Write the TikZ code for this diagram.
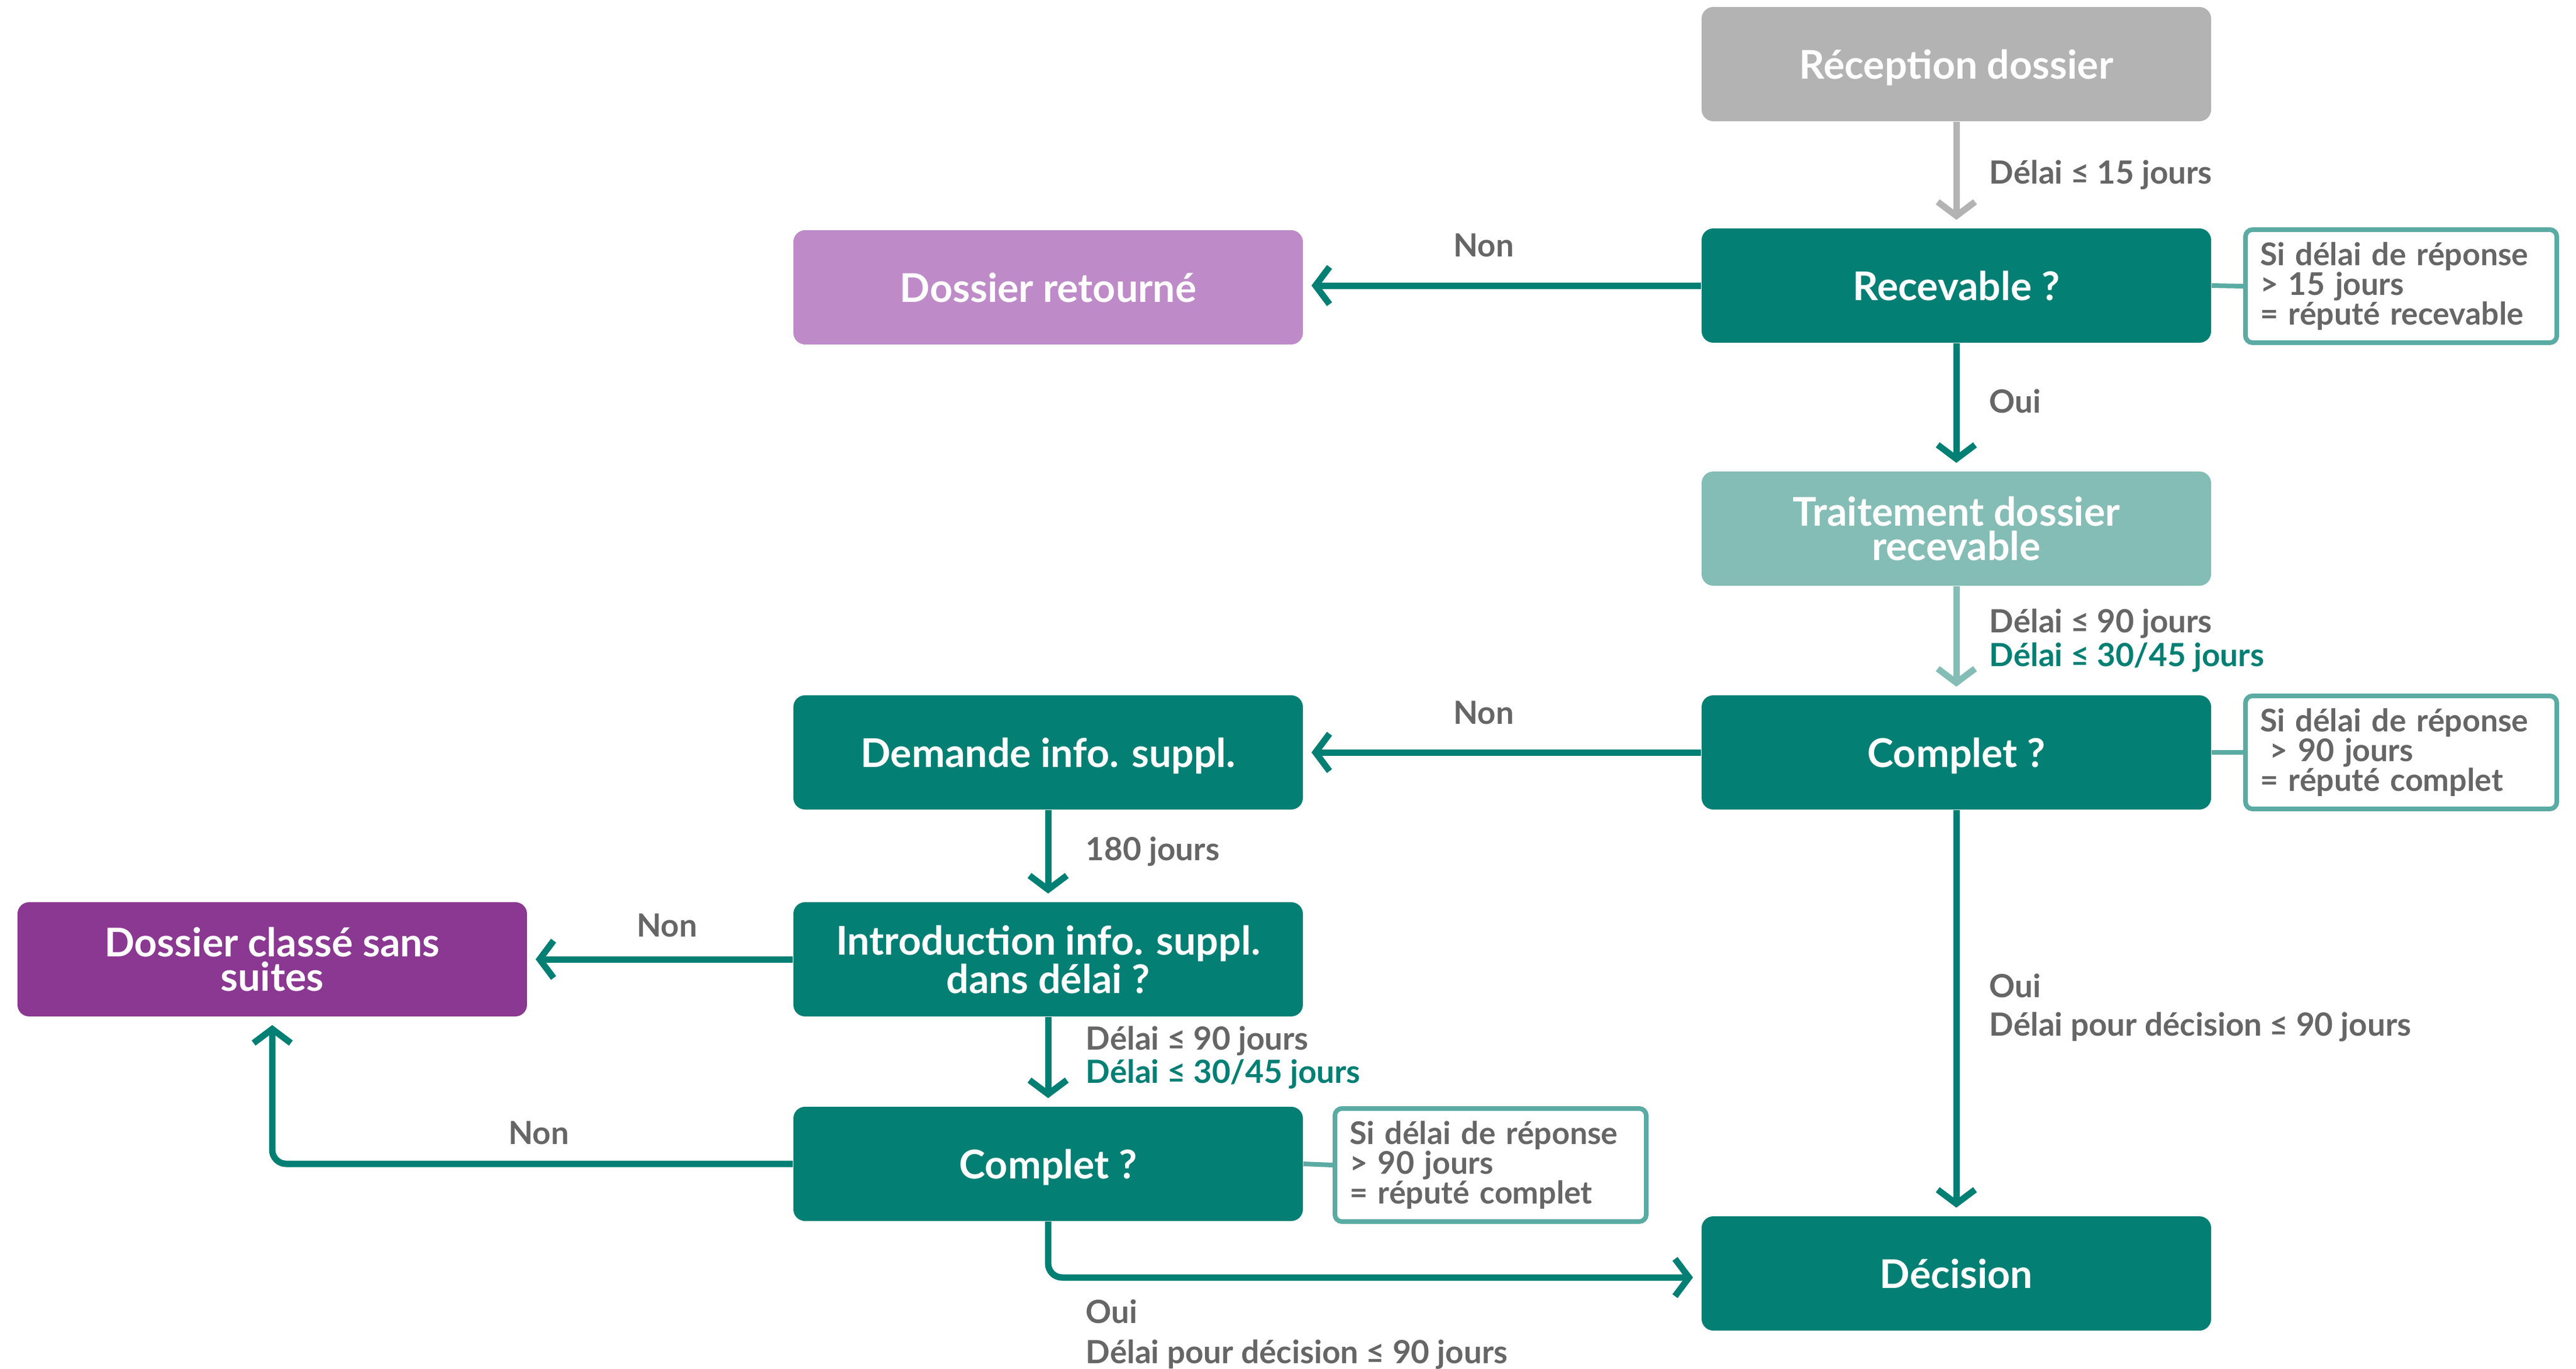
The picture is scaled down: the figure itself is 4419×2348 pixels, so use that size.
\documentclass[tikz,border=0pt]{standalone}
\usepackage{fontspec}
\setmainfont{Lato}
\usetikzlibrary{arrows.meta}
\definecolor{cTeal}{HTML}{037F74}
\definecolor{cLightTeal}{HTML}{84BDB5}
\definecolor{cGrey}{HTML}{B3B3B3}
\definecolor{cPurpleL}{HTML}{BE8BC8}
\definecolor{cPurpleD}{HTML}{8A3891}
\definecolor{cText}{HTML}{666666}
\definecolor{cNote}{HTML}{5AABA3}
\tikzset{
  box/.style={rounded corners=5pt, minimum width=218.5pt, minimum height=49pt,
    text=white, align=center, inner sep=0pt, text depth=0pt,
    font=\fontsize{17}{14.8}\selectfont\bfseries},
  lbl/.style={text=cText, inner sep=0pt, anchor=west,
    font=\fontsize{13.7}{14.5}\selectfont\bfseries},
  notebox/.style={draw=cNote, line width=2pt, fill=white, rounded corners=3pt,
    text width=121pt, inner xsep=6.25pt, inner ysep=0pt, minimum height=48.5pt,
    text=cText, align=left, font=\fontsize{13.4}{12.75}\selectfont\bfseries},
  arrow/.style={draw=cTeal, line width=2.75pt,
    -{Straight Barb[length=6pt,width=16pt]}, shorten >=3.5pt},
  notelink/.style={draw=cNote, line width=2pt}
}
\begin{document}
\begin{tikzpicture}[x=0.25pt,y=-0.25pt]
\useasboundingbox (0,0) rectangle (4419,2348);
% main boxes
\node[box, fill=cGrey] (rec) at (3356,110) {Réception dossier};
\node[box, fill=cTeal] (recv) at (3356,490) {Recevable ?};
\node[box, fill=cLightTeal] (trait) at (3356,907) {Traitement dossier\\recevable};
\node[box, fill=cTeal] (comp1) at (3356,1291) {Complet ?};
\node[box, fill=cTeal] (dec) at (3356,2185) {Décision};
\node[box, fill=cPurpleL] (ret) at (1798,493) {Dossier retourné};
\node[box, fill=cTeal] (dem) at (1798,1291) {Demande info. suppl.};
\node[box, fill=cTeal] (intro) at (1798,1646) {Introduction info. suppl.\\dans délai ?};
\node[box, fill=cTeal] (comp2) at (1798,1997) {Complet ?};
\node[box, fill=cPurpleD] (cls) at (467,1646) {Dossier classé sans\\suites};
% notes
\node[notebox] (n1) at (4119,491) {Si délai de réponse\\> 15 jours\\= réputé recevable};
\node[notebox] (n2) at (4119,1291) {Si délai de réponse\\\hspace*{0.3em}> 90 jours\\= réputé complet};
\node[notebox] (n3) at (2557,1999) {Si délai de réponse\\> 90 jours\\= réputé complet};
% note links
\draw[notelink] (recv.east) -- (n1.west);
\draw[notelink] (comp1.east) -- (n2.west);
\draw[notelink] (comp2.east) -- (n3.west);
% connectors
\draw[arrow, draw=cGrey] (rec) -- (recv);
\draw[arrow] (recv) -- (trait);
\draw[arrow, draw=cLightTeal] (trait) -- (comp1);
\draw[arrow] (comp1) -- (dec);
\draw[arrow] (recv.west) -- (ret.east |- recv.west);
\draw[arrow] (comp1.west) -- (dem.east |- comp1.west);
\draw[arrow] (dem) -- (intro);
\draw[arrow] (intro.west) -- (cls.east |- intro.west);
\draw[arrow] (intro) -- (comp2);
\draw[arrow, rounded corners=6pt] (comp2.west) -| (cls.south);
\draw[arrow, rounded corners=6pt] (comp2.south) |- ([yshift=-1.75pt]dec.west);
% labels
\node[lbl] (l1) at (3412,300) {Délai ≤ 15 jours};
\node[lbl, anchor=center] (l2) at (2545,421) {Non};
\node[lbl] (l3) at (3412,688) {Oui};
\node[lbl] (l4) at (3412,1070) {Délai ≤ 90 jours};
\node[lbl, text=cTeal] (l5) at (3412,1128) {Délai ≤ 30/45 jours};
\node[lbl, anchor=center] (l6) at (2545,1223) {Non};
\node[lbl] (l7) at (1862,1461) {180 jours};
\node[lbl, anchor=center] (l8) at (1144,1588) {Non};
\node[lbl] (l9) at (1862,1786) {Délai ≤ 90 jours};
\node[lbl, text=cTeal] (l10) at (1862,1843) {Délai ≤ 30/45 jours};
\node[lbl, anchor=center] (l11) at (924,1944) {Non};
\node[lbl] (l12) at (1862,2250) {Oui};
\node[lbl] (l13) at (1862,2324) {Délai pour décision ≤ 90 jours};
\node[lbl] (l14) at (3412,1691) {Oui};
\node[lbl] (l15) at (3412,1762) {Délai pour décision ≤ 90 jours};
\end{tikzpicture}
\end{document}
